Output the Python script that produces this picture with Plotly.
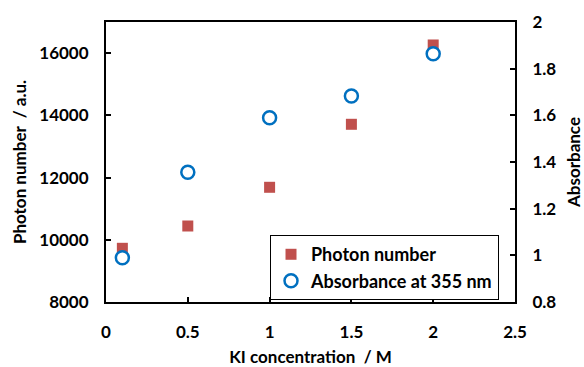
import plotly.graph_objects as go

ki_conc = [0.1, 0.5, 1.0, 1.5, 2.0]
photon_number = [9726, 10443, 11687, 13712, 16261]
absorbance = [0.990, 1.356, 1.590, 1.683, 1.864]

FONT = "Lato"
fig = go.Figure()
fig.add_trace(go.Scatter(
    x=ki_conc, y=photon_number, mode="markers", name="Photon number",
    marker=dict(symbol="square", size=11, color="#C0504D"),
    yaxis="y"))
fig.add_trace(go.Scatter(
    x=ki_conc, y=absorbance, mode="markers", name="Absorbance at 355 nm",
    marker=dict(symbol="circle", size=13, color="white",
                line=dict(color="#0070C0", width=2.5)),
    yaxis="y2"))

axfont = dict(family=FONT, size=17, color="black", weight="bold")
fig.update_layout(
    width=584, height=367,
    margin=dict(l=106, r=69, t=22, b=65),
    paper_bgcolor="white", plot_bgcolor="white",
    font=dict(family=FONT, color="black"),
    showlegend=True,
    legend=dict(x=0.401, y=0.239, xanchor="left", yanchor="top",
                bordercolor="black", borderwidth=1, bgcolor="white",
                font=dict(family=FONT, size=18, color="black", weight="bold"),
                tracegroupgap=0, itemwidth=30),
    xaxis=dict(range=[0, 2.5], dtick=0.5, tick0=0, showgrid=False, zeroline=False,
               automargin=False,
               showline=True, linecolor="black", linewidth=2, mirror=True,
               ticks="inside", ticklen=5, tickwidth=1.5, tickcolor="black",
               tickfont=axfont, ticklabelstandoff=14,
               title=dict(text="KI concentration  / M", font=axfont, standoff=10)),
    yaxis=dict(range=[8000, 17000], dtick=2000, tick0=8000, tickformat="d",
               showgrid=False, zeroline=False, automargin=False,
               showline=True, linecolor="black", linewidth=2,
               ticks="inside", ticklen=5, tickwidth=1.5, tickcolor="black",
               tickfont=axfont, ticklabelstandoff=12,
               title=dict(text="Photon number  / a.u.", font=axfont, standoff=8)),
    yaxis2=dict(range=[0.8, 2.0], dtick=0.2, tick0=0.8, overlaying="y", side="right",
                showgrid=False, zeroline=False, automargin=False,
                showline=True, linecolor="black", linewidth=2,
                ticks="inside", ticklen=5, tickwidth=1.5, tickcolor="black",
                tickfont=axfont, ticklabelstandoff=12,
                title=dict(text="Absorbance", font=axfont, standoff=16)),
)
fig.write_html("out.html")
